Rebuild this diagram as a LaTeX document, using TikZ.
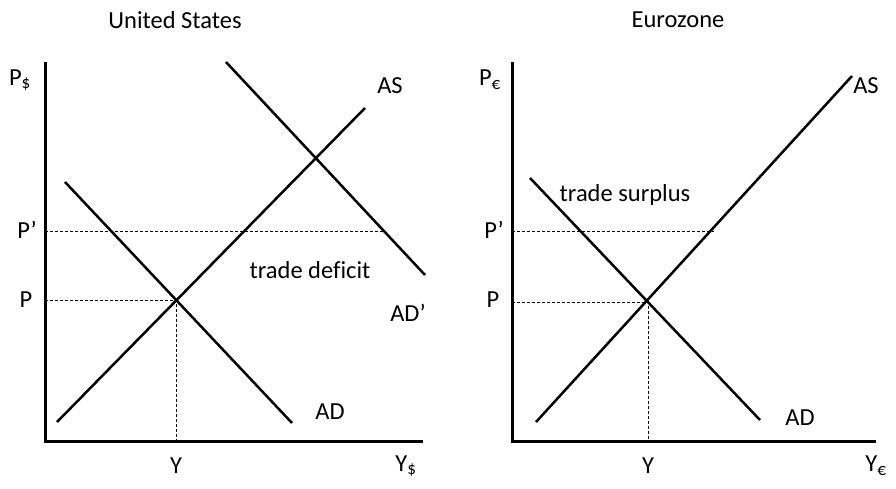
\documentclass[tikz,border=0pt]{standalone}
\usepackage{fontspec}
\setmainfont{Carlito}[Ligatures=CommonOff]
\usepackage{tikz}
\usetikzlibrary{positioning}

\begin{document}
\begin{tikzpicture}[
x=1pt, y=-1pt,
axis/.style={line width=3pt},
curve/.style={line width=2.5pt},
guide/.style={line width=0.9pt, dash pattern=on 3pt off 2pt},
lbl/.style={font=\fontsize{24.5}{28}\selectfont, inner sep=0pt}
]
\useasboundingbox (0,0) rectangle (896,488);

% United States
\node[lbl] (usTitle) at (175,20) {United States};
\coordinate (usO) at (45,441);
\coordinate (usTop) at (45,62);
\coordinate (usRight) at (423,441);
\coordinate (usAS1) at (57,422);
\coordinate (usAS2) at (365,108);
\coordinate (usAD1) at (65,182);
\coordinate (usAD2) at (292,423);
\coordinate (usADp1) at (226,62);
\coordinate (usADp2) at (425,275);
\coordinate (usE) at (176,300);
\coordinate (usPax) at (45,300);
\coordinate (usYax) at (176,441);
\coordinate (usPpax) at (45,231);
\coordinate (usPpEnd) at (384,231);

\draw[guide] (usPax) -- (usE) -- (usYax);
\draw[guide] (usPpax) -- (usPpEnd);
\draw[axis] (usTop) -- (usO) -- (usRight);
\draw[curve] (usAS1) -- (usAS2);
\draw[curve] (usAD1) -- (usAD2);
\draw[curve] (usADp1) -- (usADp2);

\node[lbl] (usPaxis) at (20,80) {P\textsubscript{\$}};
\node[lbl] (usPlbl) at (26,300) {P};
\node[lbl] (usPplbl) at (27,230) {P’};
\node[lbl] (usYlbl) at (176,466) {Y};
\node[lbl] (usYaxis) at (406,466) {Y\textsubscript{\$}};
\node[lbl] (usASlbl) at (390,86) {AS};
\node[lbl] (usADlbl) at (330,412) {AD};
\node[lbl] (usADplbl) at (408,313) {AD’};
\node[lbl] (deficit) at (310,270) {trade deficit};

% Eurozone
\node[lbl] (euTitle) at (678,20) {Eurozone};
\coordinate (euO) at (512,441);
\coordinate (euTop) at (512,62);
\coordinate (euRight) at (876,441);
\coordinate (euAS1) at (536,422);
\coordinate (euAS2) at (852,76);
\coordinate (euAD1) at (530,178);
\coordinate (euAD2) at (760,420);
\coordinate (euE) at (648,302);
\coordinate (euPax) at (512,302);
\coordinate (euYax) at (648,441);
\coordinate (euPpax) at (512,231);
\coordinate (euPpEnd) at (714,231);

\draw[guide] (euPax) -- (euE) -- (euYax);
\draw[guide] (euPpax) -- (euPpEnd);
\draw[axis] (euTop) -- (euO) -- (euRight);
\draw[curve] (euAS1) -- (euAS2);
\draw[curve] (euAD1) -- (euAD2);

\node[lbl] (euPaxis) at (490,80) {P\textsubscript{€}};
\node[lbl] (euPlbl) at (493,300) {P};
\node[lbl] (euPplbl) at (494,230) {P’};
\node[lbl] (euYlbl) at (648,466) {Y};
\node[lbl] (euYaxis) at (876,466) {Y\textsubscript{€}};
\node[lbl] (euASlbl) at (866,86) {AS};
\node[lbl] (euADlbl) at (800,418) {AD};
\node[lbl] (surplus) at (625,195) {trade surplus};
\end{tikzpicture}
\end{document}
